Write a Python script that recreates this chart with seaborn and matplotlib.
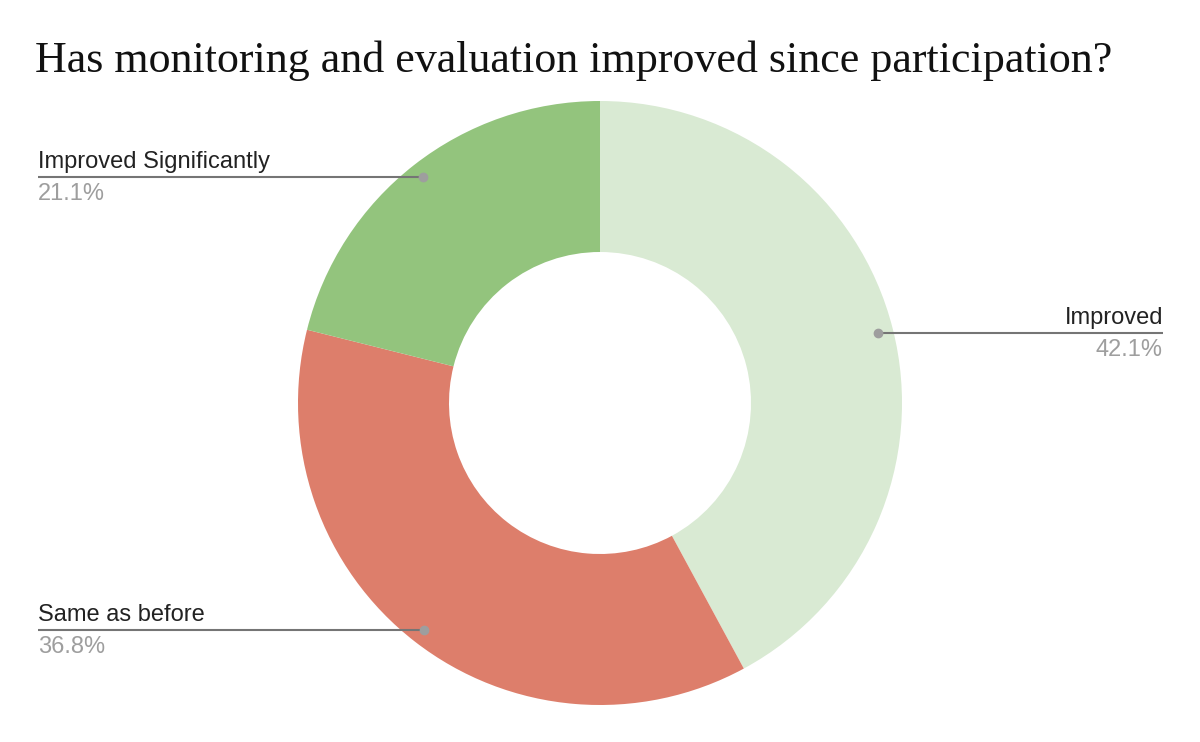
import numpy as np
import matplotlib.pyplot as plt
import seaborn as sns

# Data
labels = ["Improved", "Same as before", "Improved Significantly"]
shares = [42.1, 36.8, 21.1]
colors = ["#d9ead3", "#dd7e6b", "#93c47d"]

sns.set_theme(style="white")
plt.rcParams["font.family"] = ["Liberation Sans", "DejaVu Sans"]

fig = plt.figure(figsize=(12, 7.42), dpi=100)
ax = fig.add_axes([0, 0, 1, 1])

cx, cy, R = 600, 339, 302
wedges, _ = ax.pie(
    shares,
    colors=colors,
    startangle=90,
    counterclock=False,
    center=(cx, cy),
    radius=R,
    wedgeprops=dict(width=R * 0.5, linewidth=0),
    frame=True,
)
ax.set_xlim(0, 1200)
ax.set_ylim(0, 742)
ax.set_aspect("equal")
ax.axis("off")

# Callouts
for w, lab, val in zip(wedges, labels, shares):
    ang = np.deg2rad((w.theta1 + w.theta2) / 2)
    px = cx + 0.95 * R * np.cos(ang)
    py = cy + 0.95 * R * np.sin(ang)
    if np.cos(ang) > 0:
        x_end, ha = 1163, "right"
    else:
        x_end, ha = 38, "left"
    ax.plot([px, x_end], [py, py], color="#757575", lw=1.5, solid_capstyle="butt")
    ax.plot(px, py, "o", color="#9e9e9e", ms=6)
    ax.text(x_end, py + 4, lab, ha=ha, va="bottom", fontsize=17, color="#222222")
    ax.text(x_end, py - 6, f"{val}%", ha=ha, va="top", fontsize=17, color="#9e9e9e")

fig.text(35 / 1200, 1 - 72 / 742, "Has monitoring and evaluation improved since participation?",
         family=["Liberation Serif", "DejaVu Serif"], fontsize=31.7, color="#111111",
         ha="left", va="baseline")

fig.savefig("out.png", dpi=100)
